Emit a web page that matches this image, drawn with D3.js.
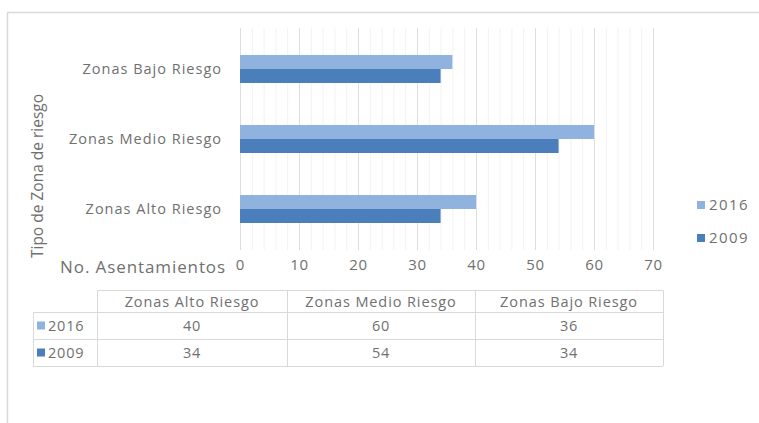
<!DOCTYPE html>
<html>
<head>
<meta charset="utf-8">
<script src="https://cdn.jsdelivr.net/npm/d3@7"></script>
<style>
  html, body { margin: 0; padding: 0; background: #fff; }
  svg { display: block; font-family: "Open Sans", Lato, sans-serif; }
</style>
</head>
<body>
<svg id="chart" width="759" height="423"></svg>
<script>
// Risk-zone categories, bottom-to-top in the chart
const categories = ["Zonas Alto Riesgo", "Zonas Medio Riesgo", "Zonas Bajo Riesgo"];
const seriesNames = ["2016", "2009"];
const values2016 = [40, 60, 36];
const values2009 = [34, 54, 34];
const xTicks = [0, 10, 20, 30, 40, 50, 60, 70];

const colors = { "2016": "#8fb3de", "2009": "#4a7fbb" };
const seriesValues = { "2016": values2016, "2009": values2009 };

const svg = d3.select("#chart");
const textColor = "#707070";

// Outer chart frame
svg.append("path")
  .attr("d", "M7.5,423 V12.5 H759")
  .attr("fill", "none")
  .attr("stroke", "#d9d9d9")
  .attr("stroke-width", 1.5);

const x = d3.scaleLinear().domain([0, 70]).range([240, 653]);
// Categories drawn top to bottom: Bajo, Medio, Alto
const y = d3.scaleBand().domain(categories.slice().reverse()).range([34, 244]);
const barH = 14;

const grid = svg.append("g");
// minor grid
grid.selectAll("line.minor")
  .data(d3.range(0, 71, 2).filter(v => v % 10 !== 0))
  .join("line")
  .attr("x1", d => x(d) + 0.5).attr("x2", d => x(d) + 0.5)
  .attr("y1", 28).attr("y2", 250)
  .attr("stroke", "#f2f2f2");
// major grid
grid.selectAll("line.major")
  .data(xTicks)
  .join("line")
  .attr("x1", d => x(d) + 0.5).attr("x2", d => x(d) + 0.5)
  .attr("y1", 28).attr("y2", 250)
  .attr("stroke", "#dedede");

// Bars
const bars = svg.append("g");
categories.forEach((c, i) => {
  const cy = y(c) + y.bandwidth() / 2;
  seriesNames.forEach((s, j) => {
    bars.append("rect")
      .attr("x", x(0))
      .attr("y", cy - barH + j * barH)
      .attr("width", x(seriesValues[s][i]) - x(0))
      .attr("height", barH)
      .attr("fill", colors[s]);
  });
});

// Category labels
svg.append("g").selectAll("text")
  .data(categories)
  .join("text")
  .attr("x", 222)
  .attr("y", d => y(d) + y.bandwidth() / 2)
  .attr("dy", "0.35em")
  .attr("text-anchor", "end")
  .attr("font-size", 14.5)
  .attr("letter-spacing", 1)
  .attr("fill", textColor)
  .text(d => d);

// X tick labels
const xAxis = d3.axisBottom(x).tickValues(xTicks).tickSize(0).tickPadding(0);
const gx = svg.append("g").attr("transform", "translate(0,259)").call(xAxis);
gx.select(".domain").remove();
gx.selectAll("text")
  .attr("font-size", 15)
  .attr("letter-spacing", 0.8)
  .attr("font-family", "'Open Sans', Lato, sans-serif")
  .attr("fill", textColor)
  .attr("dy", "0.71em");

svg.append("text")
  .attr("x", 226).attr("y", 267)
  .attr("dy", "0.35em")
  .attr("text-anchor", "end")
  .attr("font-size", 17)
  .attr("letter-spacing", 0.9)
  .attr("fill", textColor)
  .text("No. Asentamientos");

// Y axis title
svg.append("text")
  .attr("transform", "translate(38,176) rotate(-90)")
  .attr("text-anchor", "middle")
  .attr("dy", "0.35em")
  .attr("font-size", 15.5)
  .attr("fill", textColor)
  .text("Tipo de Zona de riesgo");

// Legend
const legend = svg.append("g");
seriesNames.forEach((s, i) => {
  const ly = 205 + i * 33;
  legend.append("rect")
    .attr("x", 697).attr("y", ly - 4).attr("width", 8).attr("height", 8)
    .attr("fill", colors[s]);
  legend.append("text")
    .attr("x", 709).attr("y", ly).attr("dy", "0.35em")
    .attr("font-size", 15).attr("letter-spacing", 1.4).attr("fill", textColor)
    .text(s);
});

// Data table
const tbl = svg.append("g");
const colX = [97, 287, 475, 663];
const rowY = [290, 312, 339, 366];
const lineColor = "#d9d9d9";
// header row border
tbl.append("path")
  .attr("d", `M${colX[0] + 0.5},${rowY[1]} V${rowY[0] + 0.5} H${colX[3] + 0.5} V${rowY[3]}`)
  .attr("fill", "none").attr("stroke", lineColor);
// vertical separators
colX.slice(0, 3).forEach(cx => {
  tbl.append("line").attr("x1", cx + 0.5).attr("x2", cx + 0.5)
    .attr("y1", rowY[0]).attr("y2", rowY[3]).attr("stroke", lineColor);
});
// horizontal separators for data rows
[rowY[1], rowY[2], rowY[3]].forEach(ry => {
  tbl.append("line").attr("x1", 33).attr("x2", colX[3])
    .attr("y1", ry + 0.5).attr("y2", ry + 0.5).attr("stroke", lineColor);
});
tbl.append("line").attr("x1", 33.5).attr("x2", 33.5)
  .attr("y1", rowY[1]).attr("y2", rowY[3]).attr("stroke", lineColor);

// header labels
categories.forEach((c, i) => {
  tbl.append("text")
    .attr("x", (colX[i] + colX[i + 1]) / 2)
    .attr("y", (rowY[0] + rowY[1]) / 2 + 1).attr("dy", "0.35em")
    .attr("text-anchor", "middle").attr("font-size", 14.5).attr("letter-spacing", 0.9)
    .attr("fill", textColor)
    .text(c);
});
// row keys and values
seriesNames.forEach((s, r) => {
  const cy = (rowY[r + 1] + rowY[r + 2]) / 2;
  tbl.append("rect").attr("x", 37).attr("y", cy - 4).attr("width", 8).attr("height", 8)
    .attr("fill", colors[s]);
  tbl.append("text").attr("x", 48).attr("y", cy).attr("dy", "0.35em")
    .attr("font-size", 14.5).attr("letter-spacing", 0.8).attr("fill", textColor).text(s);
  seriesValues[s].forEach((v, i) => {
    tbl.append("text")
      .attr("x", (colX[i] + colX[i + 1]) / 2)
      .attr("y", cy).attr("dy", "0.35em")
      .attr("text-anchor", "middle").attr("font-size", 14.5).attr("letter-spacing", 0.8)
      .attr("fill", textColor)
      .text(v);
  });
});
</script>
</body>
</html>
